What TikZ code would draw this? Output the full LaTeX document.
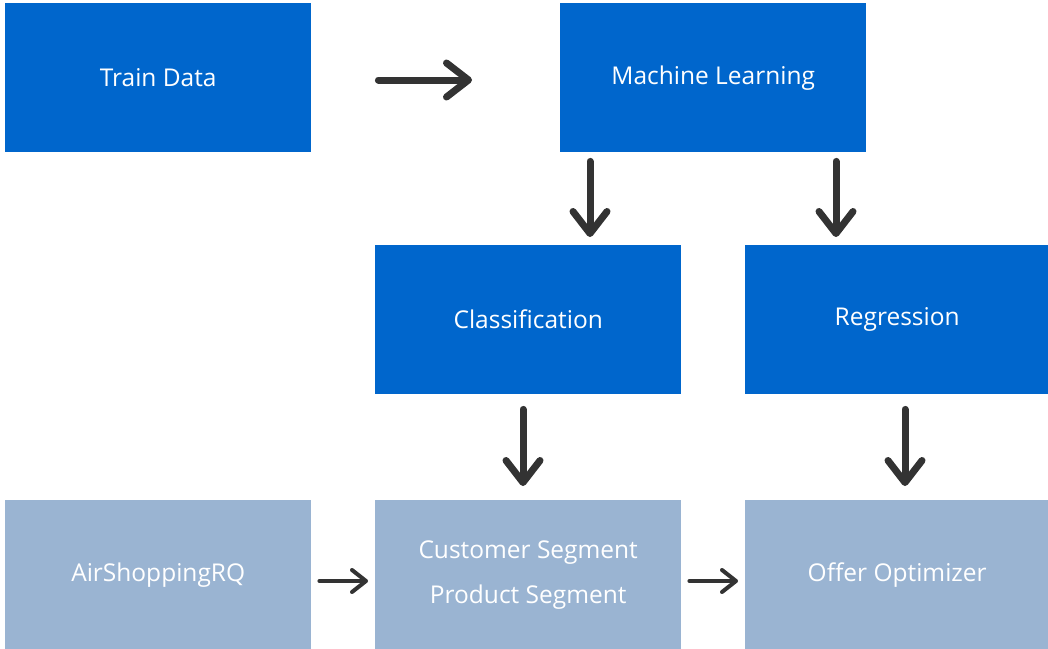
\documentclass[tikz,border=0pt]{standalone}
\usepackage{fontspec}
\setmainfont{Open Sans}
\usetikzlibrary{arrows.meta,calc}
\definecolor{dblue}{HTML}{0066CC}
\definecolor{lblue}{HTML}{9AB4D2}
\definecolor{agray}{HTML}{333333}
\begin{document}
\begin{tikzpicture}[x=1pt,y=-1pt,
  box/.style={rectangle,minimum width=306pt,minimum height=149pt,inner sep=0pt,text=white,font=\fontsize{24.5}{45}\selectfont,align=center},
  dbox/.style={box,fill=dblue},
  lbox/.style={box,fill=lblue},
  bigarr/.style={draw=agray,line width=7pt,line cap=round,-{Straight Barb[length=22pt,width=34pt,round]}},
  smallarr/.style={draw=agray,line width=4pt,line cap=round,-{Straight Barb[length=14pt,width=22pt,round]}}]
\useasboundingbox (0,0) rectangle (1048,648);
\node[dbox,anchor=north west] (train) at (5,3) {Train Data};
\node[dbox,anchor=north west] (ml) at (560,3) {Machine Learning};
\node[dbox,anchor=north west] (cls) at (375,245) {Classification};
\node[dbox,anchor=north west,minimum width=304pt] (reg) at (745,245) {Regression};
\node[lbox,anchor=north west] (air) at (5,500) {AirShoppingRQ};
\node[lbox,anchor=north west] (seg) at (375,500) {Customer Segment\\Product Segment};
\node[lbox,anchor=north west,minimum width=304pt] (off) at (745,500) {Offer Optimizer};
\draw[bigarr] ($(train.north east)+(67,77)$) -- ($(ml.north west)+(-88,77)$);
\draw[bigarr] ($(ml.south west)+(30,9)$) -- ($(cls.north west)+(215,-8)$);
\draw[bigarr] ($(ml.south west)+(276,9)$) -- ($(reg.north west)+(91,-8)$);
\draw[bigarr] ($(cls.south west)+(148,15)$) -- ($(seg.north west)+(148,-14)$);
\draw[bigarr] ($(reg.south west)+(160,15)$) -- ($(off.north west)+(160,-14)$);
\draw[smallarr] ($(air.north east)+(8,81)$) -- ($(seg.north west)+(-7,81)$);
\draw[smallarr] ($(seg.north east)+(8,81)$) -- ($(off.north west)+(-7,81)$);
\end{tikzpicture}
\end{document}
